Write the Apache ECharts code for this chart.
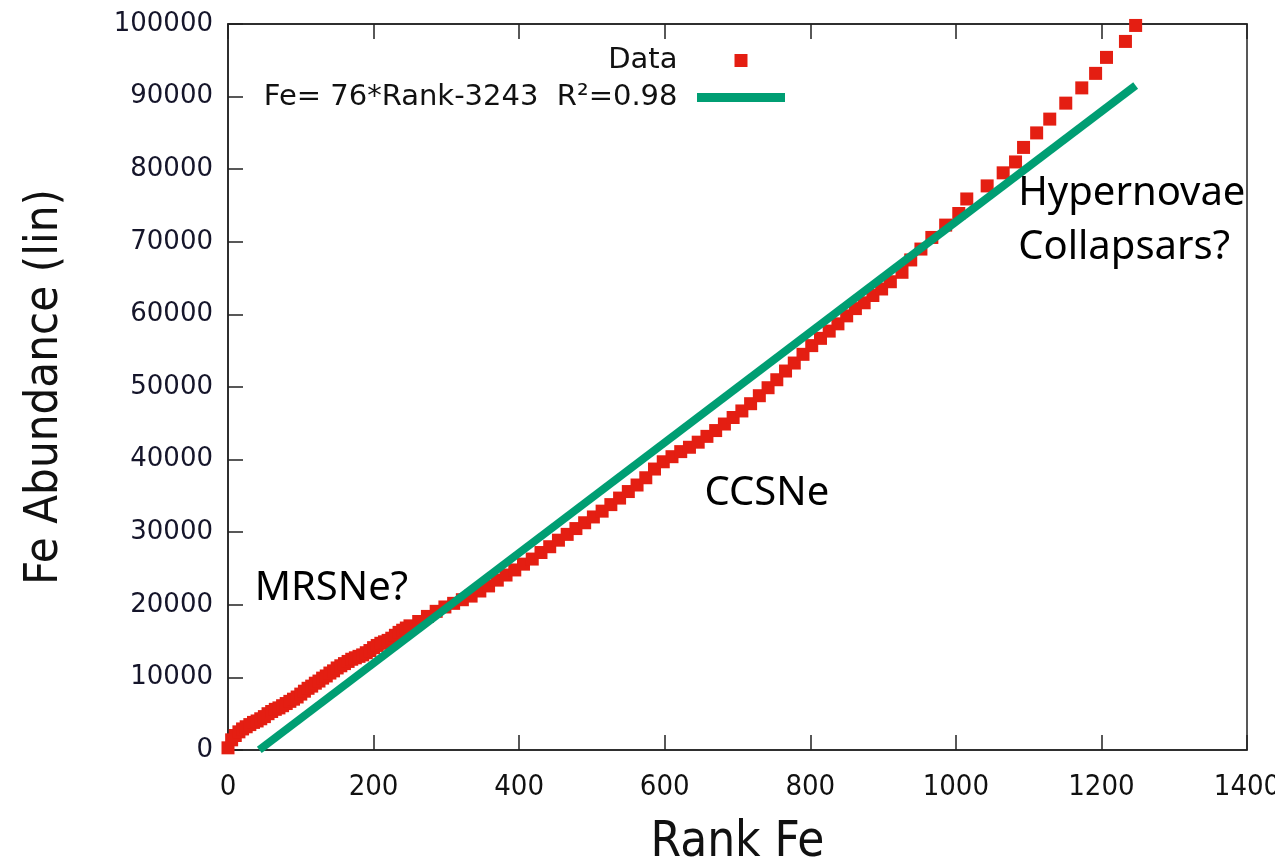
<!DOCTYPE html>
<html>
<head>
<meta charset="utf-8">
<script src="https://cdn.jsdelivr.net/npm/echarts@6/dist/echarts.min.js"></script>
<style>
html,body{margin:0;padding:0;background:#fff;}
#chart{width:1275px;height:860px;}
</style>
</head>
<body>
<div id="chart"></div>
<script>
// ---- data ----
const ranks = [
  0,5,10,15,20,25,30,35,40,45,50,55,60,65,70,75,80,85,90,95,
  100,105,110,115,120,125,130,135,140,145,150,155,160,165,170,175,180,185,190,195,
  200,205,210,215,220,225,230,235,240,245,250,
  262,274,286,298,310,322,334,346,358,370,382,394,406,418,430,442,454,466,478,490,
  502,514,526,538,550,562,574,586,598,610,622,634,646,658,670,682,694,706,718,730,
  742,754,766,778,790,802,814,826,838,850,862,874,886,898,910,
  926,938,952,967,986,1004,1015,1043,1065,1082,1093,1111,1129,1151,1173,1192,1207,1233,1247
];
const feValues = [
  300,1400,2000,2500,2900,3200,3500,3800,4000,4300,4600,5000,5300,5600,5800,6100,6400,6700,7000,7300,
  7700,8100,8500,8800,9200,9500,9900,10200,10600,10900,11300,11600,11900,12200,12500,12700,12900,13100,13400,13700,
  14100,14400,14700,14900,15100,15400,15800,16200,16500,16800,17100,
  17700,18400,19100,19700,20200,20700,21200,21900,22600,23400,24100,24800,25600,26300,27200,28000,28900,29700,30500,31300,
  32100,32900,33800,34700,35600,36500,37500,38700,39700,40400,41100,41700,42400,43200,44000,44900,45800,46700,47700,48800,
  49900,51000,52200,53300,54500,55700,56700,57700,58700,59800,60800,61600,62600,63500,64500,
  65800,67500,69000,70600,72300,73900,75900,77700,79500,81000,83000,85000,86900,89100,91200,93200,95400,97600,99800
];
// fitted line end points (Fe = 76*Rank - 3243)
const fitRanks = [43, 1247];
const fitValues = [25, 91529];
const fitName = 'Fe= 76*Rank-3243  R\u00B2=0.98';

// annotations
const annotLabels = ['MRSNe?', 'CCSNe', 'Hypernovae', 'Collapsars?'];
const annotRanks = [36, 654, 1085, 1085];
const annotFe = [22200, 35300, 76700, 69200];

// axes
const xMin = 0, xMax = 1400, xStep = 200;
const yMin = 0, yMax = 100000, yStep = 10000;

// ---- build chart ----
const dataPts = ranks.map((r, i) => [r, feValues[i]]);
const fitPts = fitRanks.map((r, i) => [r, fitValues[i]]);
const annotPts = annotLabels.map((t, i) => ({ name: t, value: [annotRanks[i], annotFe[i]] }));

const condensed = '"DejaVu Sans Condensed", "Liberation Sans Narrow", sans-serif';
const legendFont = { fontFamily: '"DejaVu Sans", Verdana, sans-serif', fontSize: 29, color: '#111' };
const chart = echarts.init(document.getElementById('chart'), null, { renderer: 'canvas' });
chart.setOption({
  animation: false,
  backgroundColor: '#ffffff',
  grid: { left: 228, right: 28, top: 24, bottom: 110, show: true, borderColor: '#222', borderWidth: 1.5,
    backgroundColor: 'transparent', containLabel: false, outerBoundsMode: 'none' },
  xAxis: [{
    type: 'value', min: xMin, max: xMax, interval: xStep,
    name: 'Rank Fe', nameLocation: 'middle', nameGap: 69,
    nameTextStyle: { fontFamily: condensed, fontSize: 49, color: '#111' },
    axisLine: { show: true, lineStyle: { color: '#222', width: 1.5 } },
    axisTick: { show: true, inside: true, length: 15, lineStyle: { color: '#222', width: 1.5 } },
    axisLabel: { margin: 23, fontFamily: condensed, fontSize: 29, color: '#111', formatter: v => String(v),
      showMinLabel: true, showMaxLabel: true, hideOverlap: false },
    splitLine: { show: false }
  }, {
    type: 'value', position: 'top', min: xMin, max: xMax, interval: xStep,
    axisLine: { show: true, lineStyle: { color: '#222', width: 1.5 } },
    axisTick: { show: true, inside: true, length: 15, lineStyle: { color: '#222', width: 1.5 } },
    axisLabel: { show: false }, splitLine: { show: false }
  }],
  yAxis: {
    type: 'value', min: yMin, max: yMax, interval: yStep,
    name: 'Fe Abundance (lin)', nameLocation: 'middle', nameGap: 160, nameRotate: 90,
    nameTextStyle: { fontFamily: condensed, fontSize: 47, color: '#111' },
    axisLine: { show: true, lineStyle: { color: '#222', width: 1.5 } },
    axisTick: { show: true, inside: true, length: 15, lineStyle: { color: '#222', width: 1.5 } },
    axisLabel: { margin: 15, fontFamily: '"DejaVu Sans", Verdana, sans-serif', fontSize: 26, color: '#15152a',
      formatter: v => String(v) },
    splitLine: { show: false }
  },
  legend: [{
    data: [{ name: 'Data', icon: 'path://M0,0M88,13M37.5,0L50.5,0L50.5,13L37.5,13Z', itemStyle: { color: '#e41e12' } }],
    orient: 'vertical', align: 'right', right: 490, top: 46, padding: 0,
    itemWidth: 88, itemHeight: 13, selectedMode: false,
    formatter: n => n + '\u2002',
    textStyle: legendFont
  }, {
    data: [{ name: fitName, icon: 'path://M0,0M88,13M0,2L88,2L88,11L0,11Z', itemStyle: { color: '#009e73' } }],
    orient: 'vertical', align: 'right', right: 490, top: 83, padding: 0,
    itemWidth: 88, itemHeight: 13, selectedMode: false,
    formatter: n => n + '\u2002',
    textStyle: legendFont
  }],
  series: [{
    name: 'Data', type: 'scatter', data: dataPts,
    symbol: 'rect', symbolSize: 13,
    itemStyle: { color: '#e41e12', opacity: 1 },
    z: 2
  }, {
    name: fitName, type: 'line', data: fitPts,
    showSymbol: false, symbol: 'none', color: '#009e73',
    lineStyle: { color: '#009e73', width: 8 },
    z: 3
  }, {
    name: 'annotations', type: 'scatter', data: annotPts,
    symbolSize: 1, itemStyle: { color: 'rgba(0,0,0,0)' },
    label: { show: true, position: 'right', distance: 0, formatter: p => p.name,
      fontFamily: '"Noto Sans", "Open Sans", sans-serif', fontSize: 40, color: '#000', opacity: 1 },
    silent: true, z: 4
  }]
});
</script>
</body>
</html>
